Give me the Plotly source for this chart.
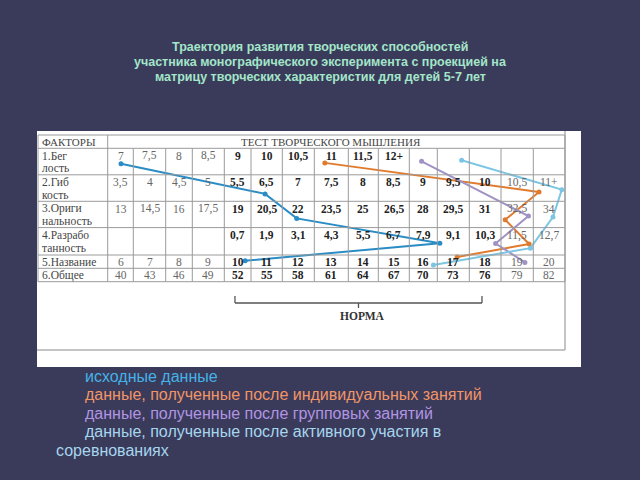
import numpy as np
import plotly.graph_objects as go

# ---------------- data ----------------
title_lines = [
    "Траектория развития творческих способностей",
    "участника монографического эксперимента с проекцией на",
    "матрицу творческих характеристик для детей 5-7 лет",
]
header_left = "ФАКТОРЫ"
header_right = "ТЕСТ ТВОРЧЕСКОГО МЫШЛЕНИЯ"
factor_labels = [
    ["1.Бег", "лость"],
    ["2.Гиб", "кость"],
    ["3.Ориги", "нальность"],
    ["4.Разрабо", "танность"],
    ["5.Название"],
    ["6.Общее"],
]
scores = [
    ["7", "7,5", "8", "8,5", "9", "10", "10,5", "11", "11,5", "12+", "", "", "", "", ""],
    ["3,5", "4", "4,5", "5", "5,5", "6,5", "7", "7,5", "8", "8,5", "9", "9,5", "10", "10,5", "11+"],
    ["13", "14,5", "16", "17,5", "19", "20,5", "22", "23,5", "25", "26,5", "28", "29,5", "31", "32,5", "34"],
    ["", "", "", "", "0,7", "1,9", "3,1", "4,3", "5,5", "6,7", "7,9", "9,1", "10,3", "11,5", "12,7"],
    ["6", "7", "8", "9", "10", "11", "12", "13", "14", "15", "16", "17", "18", "19", "20"],
    ["40", "43", "46", "49", "52", "55", "58", "61", "64", "67", "70", "73", "76", "79", "82"],
]
norm_first, norm_last = 5, 13          # score columns (1-based) inside the norm
norm_label = "НОРМА"

series_names = [
    "исходные данные",
    "данные, полученные после индивидуальных занятий",
    "данные, полученные после групповых занятий",
    "данные, полученные после активного участия в",
]
series_tail = "соревнованиях"

# trajectories: position in score columns (col k centre = k-0.5) and factor rows (row k centre = k-0.5)
initial_col = [0.52, 5.45, 6.45, 11.08, 4.78]
initial_row = [0.58, 1.72, 2.65, 3.57, 4.43]
individual_col = [7.31, 14.18, 13.13, 13.87, 11.62]
individual_row = [0.55, 1.65, 2.70, 3.60, 4.15]
group_col = [10.44, 13.85, 12.83, 13.74]
group_row = [0.49, 2.56, 3.58, 4.56]
contest_col = [11.76, 14.90, 14.62, 13.91, 10.86]
contest_row = [0.45, 1.56, 2.60, 3.75, 4.75]

# ---------------- layout geometry (page pixels) ----------------
col_edges = [107.7, 133.3, 165.7, 192.3, 224.3, 251, 282.3, 314.3, 348.3,
             378.3, 409.3, 437.3, 469.3, 501, 533.3, 565]
row_edges = [148.3, 174.8, 201.3, 227.6, 255, 268.3, 281.7]
table_left, header_top = 38, 135


def xc(u):
    return np.interp(u, np.arange(len(col_edges)), col_edges)


def yr(v):
    return np.interp(v, np.arange(len(row_edges)), row_edges)


BG = "#3a3a5a"
GRID = "#9a9a9a"
SERIF = "Liberation Serif, Times New Roman, serif"
SANS = "Liberation Sans, Arial, sans-serif"

fig = go.Figure()
shapes = []
ann = []

# white panel and the picture's frame
shapes.append(dict(type="rect", x0=37, x1=581, y0=131, y1=367, xref="x", yref="y",
                   fillcolor="white", line=dict(width=0), layer="below"))
shapes.append(dict(type="line", x0=565, x1=565, y0=131, y1=350, xref="x", yref="y",
                   line=dict(color="#b0b0b0", width=1.5)))
shapes.append(dict(type="line", x0=37, x1=565, y0=350, y1=350, xref="x", yref="y",
                   line=dict(color="#b0b0b0", width=1.5)))

# table grid
for y in [header_top] + row_edges:
    shapes.append(dict(type="line", x0=table_left, x1=col_edges[-1], y0=y, y1=y,
                       xref="x", yref="y", line=dict(color=GRID, width=1)))
for x in [table_left, col_edges[0], col_edges[-1]]:
    shapes.append(dict(type="line", x0=x, x1=x, y0=header_top, y1=row_edges[-1],
                       xref="x", yref="y", line=dict(color=GRID, width=1)))
for x in col_edges[1:-1]:
    shapes.append(dict(type="line", x0=x, x1=x, y0=row_edges[0], y1=row_edges[-1],
                       xref="x", yref="y", line=dict(color=GRID, width=1)))

# header texts
ann.append(dict(x=table_left + 2, y=(header_top + row_edges[0]) / 2, text=header_left,
                xanchor="left", yanchor="middle", showarrow=False,
                font=dict(family=SERIF, size=11, color="#444")))
ann.append(dict(x=(col_edges[0] + col_edges[-1]) / 2 - 5, y=(header_top + row_edges[0]) / 2,
                text=header_right, xanchor="center", yanchor="middle", showarrow=False,
                font=dict(family=SERIF, size=11, color="#444")))

# factor labels and scores
for i, lab in enumerate(factor_labels):
    top = row_edges[i]
    bot = row_edges[i + 1]
    if len(lab) == 2:
        ys = [top + 7.5, top + 20]
    else:
        ys = [(top + bot) / 2]
    for txt, y in zip(lab, ys):
        ann.append(dict(x=table_left + 2, y=y, text=txt, xanchor="left", yanchor="middle",
                        showarrow=False, font=dict(family=SERIF, size=11.5, color="#444")))
    for j, s in enumerate(scores[i]):
        if not s:
            continue
        in_norm = norm_first <= j + 1 <= norm_last
        txt = f"<b>{s}</b>" if in_norm else s
        ann.append(dict(x=float(xc(j + 0.5)), y=ys[0], text=txt, xanchor="center",
                        yanchor="middle", showarrow=False,
                        font=dict(family=SERIF, size=11.5,
                                  color="#222" if in_norm else "#666")))

# norm bracket
bx0, bx1 = float(xc(norm_first - 0.6)), float(xc(norm_last - 0.6))
bm = (bx0 + bx1) / 2
for s in [dict(x0=bx0, x1=bx0, y0=296, y1=303), dict(x0=bx1, x1=bx1, y0=296, y1=303),
          dict(x0=bx0, x1=bx1, y0=303, y1=303), dict(x0=bm, x1=bm, y0=303, y1=308)]:
    shapes.append(dict(type="line", xref="x", yref="y", line=dict(color="#555", width=1.3), **s))
ann.append(dict(x=bm + 4, y=316, text=f"<b>{norm_label}</b>", showarrow=False,
                xanchor="center", yanchor="middle",
                font=dict(family=SERIF, size=11.5, color="#333")))

# trajectories
series = [
    (initial_col, initial_row, "#2a8cc4"),
    (individual_col, individual_row, "#e07b2e"),
    (group_col, group_row, "#a092c4"),
    (contest_col, contest_row, "#7cc6e4"),
]
for (cx, cy, col), name in zip(series, series_names):
    fig.add_trace(go.Scatter(
        x=xc(cx), y=yr(cy), mode="lines+markers", name=name, showlegend=False,
        line=dict(color=col, width=2), marker=dict(color=col, size=5),
        hoverinfo="skip"))

# title
for k, t in enumerate(title_lines):
    ann.append(dict(x=320, y=46.5 + k * 15, text=f"<b>{t}</b>", showarrow=False,
                    xanchor="center", yanchor="middle",
                    font=dict(family=SANS, size=12.5, color="#a3e6c9")))

# legend text
leg_colors = ["#45b3e6", "#f29566", "#b195e3", "#a6d6ee"]
for k, (t, c) in enumerate(zip(series_names, leg_colors)):
    ann.append(dict(x=83, y=376 + k * 18.5, text=t, showarrow=False, xanchor="left",
                    yanchor="middle", font=dict(family=SANS, size=16, color=c)))
ann.append(dict(x=54, y=376 + 4 * 18.5, text=series_tail, showarrow=False, xanchor="left",
                yanchor="middle", font=dict(family=SANS, size=16, color=leg_colors[3])))

fig.update_layout(
    width=640, height=480, margin=dict(l=0, r=0, t=0, b=0),
    paper_bgcolor=BG, plot_bgcolor=BG,
    xaxis=dict(range=[0, 640], visible=False, fixedrange=True),
    yaxis=dict(range=[480, 0], visible=False, fixedrange=True),
    shapes=shapes, annotations=ann, showlegend=False,
)
fig.write_html("out.html")
